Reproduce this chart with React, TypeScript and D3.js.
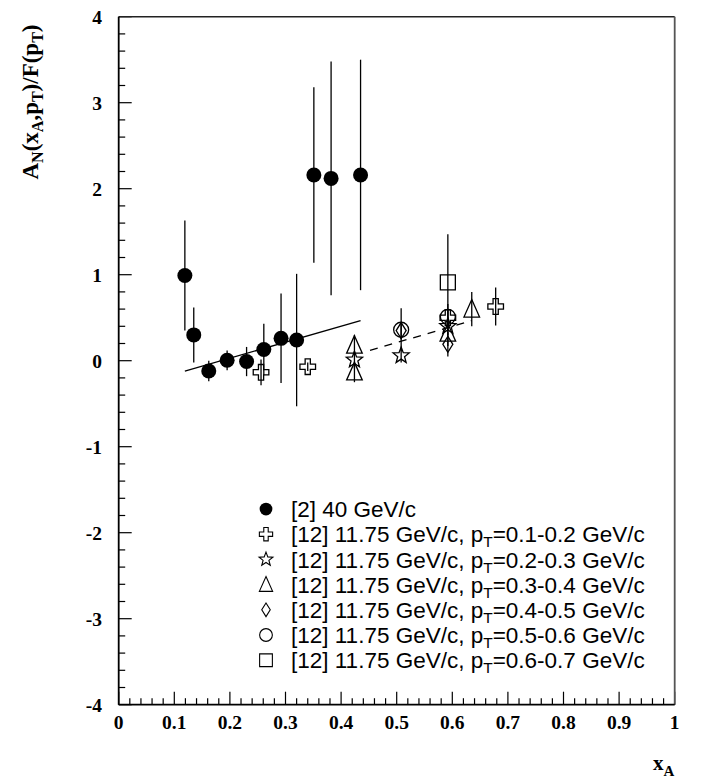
import React from "react";
import * as d3 from "d3";

// ---- data ----
const xTickLabels = ["0", "0.1", "0.2", "0.3", "0.4", "0.5", "0.6", "0.7", "0.8", "0.9", "1"];
const yTickLabels = ["-4", "-3", "-2", "-1", "0", "1", "2", "3", "4"];

// [x, y, err]
const series40: [number, number, number][] = [
  [0.119, 0.99, 0.64],
  [0.135, 0.30, 0.32],
  [0.162, -0.12, 0.12],
  [0.195, 0.005, 0.115],
  [0.230, -0.01, 0.17],
  [0.261, 0.13, 0.30],
  [0.292, 0.26, 0.52],
  [0.320, 0.24, 0.77],
  [0.351, 2.16, 1.02],
  [0.382, 2.12, 1.36],
  [0.435, 2.16, 1.34],
];
const seriesPt12: [number, number, number][] = [
  [0.256, -0.135, 0.15],
  [0.340, -0.07, 0.05],
  [0.592, 0.50, 0.1],
  [0.678, 0.63, 0.22],
];
const seriesPt23: [number, number, number][] = [
  [0.424, 0.01, 0.1],
  [0.508, 0.06, 0.08],
  [0.592, 0.40, 0.1],
];
const seriesPt34: [number, number, number][] = [
  [0.424, 0.18, 0.12],
  [0.424, -0.13, 0.12],
  [0.592, 0.32, 0.15],
  [0.635, 0.60, 0.2],
];
const seriesPt45: [number, number, number][] = [
  [0.508, 0.35, 0.1],
  [0.592, 0.19, 0.14],
];
const seriesPt56: [number, number, number][] = [
  [0.508, 0.36, 0.25],
  [0.592, 0.51, 0.15],
];
const seriesPt67: [number, number, number][] = [
  [0.592, 0.91, 0.56],
];
const solidFit: [number, number][] = [[0.119, -0.12], [0.435, 0.465]];
const dashedFit: [number, number][] = [[0.452, 0.12], [0.635, 0.465]];

const legendLabels = [
  "[2] 40 GeV/c",
  "0.1-0.2",
  "0.2-0.3",
  "0.3-0.4",
  "0.4-0.5",
  "0.5-0.6",
  "0.6-0.7",
];

// ---- layout ----
const W = 703, H = 783;
const L = 118.7, R = 674.7, T = 16.7, B = 704.7;

const x = d3.scaleLinear().domain([0, 1]).range([L, R]);
const y = d3.scaleLinear().domain([-4, 4]).range([B, T]);

type Shape = "fcircle" | "cross" | "star" | "triangle" | "diamond" | "circle" | "square";

function shapePath(s: Shape, k = 1): string {
  const line = d3.line();
  if (s === "fcircle" || s === "circle") {
    return d3.symbol(d3.symbolCircle, Math.PI * (7.5 * k) ** 2)() as string;
  }
  if (s === "cross") {
    const a = 2.6 * k, b = 7.8 * k;
    return line([[-a, -b], [a, -b], [a, -a], [b, -a], [b, a], [a, a], [a, b], [-a, b], [-a, a], [-b, a], [-b, -a], [-a, -a]]) + "Z";
  }
  if (s === "star") {
    const pts: [number, number][] = d3.range(10).map((i) => {
      const r = (i % 2 === 0 ? 8.5 : 3.6) * k;
      const ang = -Math.PI / 2 + (i * Math.PI) / 5;
      return [r * Math.cos(ang), r * Math.sin(ang)];
    });
    return line(pts) + "Z";
  }
  if (s === "triangle") {
    return line([[0, -9.5 * k], [7.8 * k, 8 * k], [-7.8 * k, 8 * k]]) + "Z";
  }
  if (s === "diamond") {
    return line([[0, -8 * k], [5 * k, 0], [0, 8 * k], [-5 * k, 0]]) + "Z";
  }
  const h = 7.5 * k;
  return line([[-h, -h], [h, -h], [h, h], [-h, h]]) + "Z";
}

const seriesList: { data: [number, number, number][]; shape: Shape }[] = [
  { data: series40, shape: "fcircle" },
  { data: seriesPt12, shape: "cross" },
  { data: seriesPt23, shape: "star" },
  { data: seriesPt34, shape: "triangle" },
  { data: seriesPt45, shape: "diamond" },
  { data: seriesPt56, shape: "circle" },
  { data: seriesPt67, shape: "square" },
];

const serif = "'Liberation Serif', 'Times New Roman', serif";
const sans = "'Liberation Sans', Arial, sans-serif";

export default function App() {
  const line = d3.line<[number, number]>().x((d) => x(d[0])).y((d) => y(d[1]));
  const yMinor = d3.range(-4, 4.001, 0.2);
  const xMinor = d3.range(0, 1.0001, 0.02);
  const yMajor = d3.range(-4, 5, 1);
  const xMajor = d3.range(0, 1.0001, 0.1);
  const legY0 = 509, legDy = 25.2, legX = 266, legTx = 291;

  return (
    <svg width={W} height={H} style={{ position: "absolute", left: 0, top: 0, background: "#fff" }}>
      <rect x={0} y={0} width={W} height={H} fill="#fff" />
      {/* ticks */}
      {yMinor.map((v, i) => {
        const major = Math.abs(v - Math.round(v)) < 1e-6;
        return <line key={"ym" + i} x1={L} x2={L + (major ? 13 : 6.5)} y1={y(v)} y2={y(v)} stroke="#000" strokeWidth={1.2} />;
      })}
      {xMinor.map((v, i) => {
        const major = Math.abs(v * 10 - Math.round(v * 10)) < 1e-6;
        return <line key={"xm" + i} x1={x(v)} x2={x(v)} y1={B} y2={B - (major ? 13 : 6.5)} stroke="#000" strokeWidth={1.2} />;
      })}
      {/* frame */}
      <line x1={L} x2={R} y1={T} y2={T} stroke="#222" strokeWidth={1.6} />
      <line x1={R} x2={R} y1={T} y2={B} stroke="#555" strokeWidth={1.8} />
      <line x1={L} x2={L} y1={T} y2={B} stroke="#000" strokeWidth={1.8} />
      <line x1={L} x2={R} y1={B} y2={B} stroke="#000" strokeWidth={1.8} />
      {/* tick labels */}
      {yMajor.map((v, i) => (
        <text key={"yl" + i} x={102} y={y(v)} dy="0.35em" textAnchor="end" fontFamily={serif} fontWeight="bold" fontSize={19.5}>
          {yTickLabels[i]}
        </text>
      ))}
      {xMajor.map((v, i) => (
        <text key={"xl" + i} x={x(v)} y={729} textAnchor="middle" fontFamily={serif} fontWeight="bold" fontSize={19.5}>
          {xTickLabels[i]}
        </text>
      ))}
      {/* axis titles */}
      <text x={653} y={770} fontFamily={serif} fontWeight="bold" fontSize={21}>
        x<tspan fontSize={15} dy={6}>A</tspan>
      </text>
      <text transform={`translate(38,102) rotate(-90)`} textAnchor="middle" fontFamily={serif} fontWeight="bold" fontSize={23}>
        A<tspan fontSize={16} dy={5}>N</tspan>
        <tspan dy={-5}>(x</tspan>
        <tspan fontSize={16} dy={5}>A</tspan>
        <tspan dy={-5}>,p</tspan>
        <tspan fontSize={16} dy={5}>T</tspan>
        <tspan dy={-5}>)/F(p</tspan>
        <tspan fontSize={16} dy={5}>T</tspan>
        <tspan dy={-5}>)</tspan>
      </text>
      {/* fit lines */}
      <path d={line(solidFit) as string} stroke="#000" strokeWidth={1.3} fill="none" />
      <path d={line(dashedFit) as string} stroke="#000" strokeWidth={1.3} fill="none" strokeDasharray="8,7" />
      {/* error bars */}
      {seriesList.map((s, si) =>
        s.data.map((d, i) => (
          <line key={`e${si}-${i}`} x1={x(d[0])} x2={x(d[0])} y1={y(d[1] - d[2])} y2={y(d[1] + d[2])} stroke="#000" strokeWidth={1.3} />
        ))
      )}
      {/* markers */}
      {seriesList.map((s, si) =>
        s.data.map((d, i) => (
          <path
            key={`m${si}-${i}`}
            d={shapePath(s.shape)}
            transform={`translate(${x(d[0])},${y(d[1])})`}
            fill={s.shape === "fcircle" ? "#000" : "none"}
            stroke="#000"
            strokeWidth={s.shape === "fcircle" ? 0 : 1.3}
          />
        ))
      )}
      {/* legend */}
      {seriesList.map((s, i) => (
        <g key={"lg" + i} transform={`translate(0,${legY0 + i * legDy})`}>
          <path
            d={shapePath(s.shape, 0.85)}
            transform={`translate(${legX},0)`}
            fill={s.shape === "fcircle" ? "#000" : "none"}
            stroke="#000"
            strokeWidth={s.shape === "fcircle" ? 0 : 1.1}
          />
          <text x={legTx} y={0} dy="0.36em" fontFamily={sans} fontSize={22.5}>
            {i === 0 ? (
              legendLabels[0]
            ) : (
              <>
                [12] 11.75 GeV/c, p<tspan fontSize={15.5} dy={5}>T</tspan>
                <tspan dy={-5}>={legendLabels[i]} GeV/c</tspan>
              </>
            )}
          </text>
        </g>
      ))}
    </svg>
  );
}
